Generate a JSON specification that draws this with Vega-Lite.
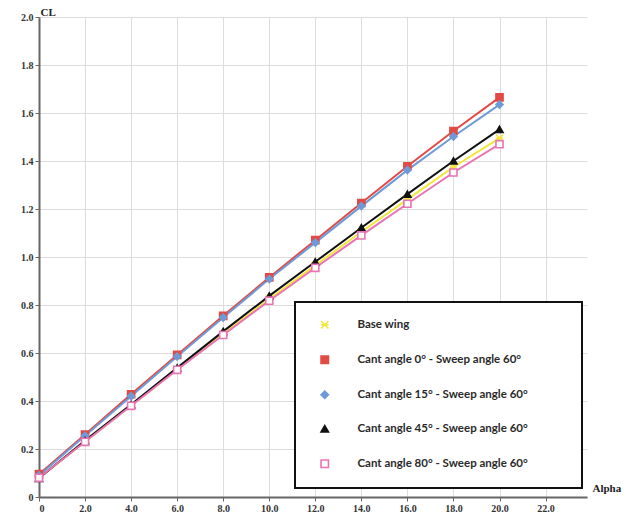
{
  "$schema": "https://vega.github.io/schema/vega-lite/v6.json",
  "width": 548,
  "height": 480,
  "autosize": {"type": "none"},
  "padding": {"left": 39, "top": 17, "right": 42, "bottom": 18},
  "background": "white",
  "config": {
    "view": {"stroke": null},
    "axis": {
      "labelFont": "Liberation Serif",
      "labelFontWeight": "bold",
      "labelFontSize": 10,
      "labelColor": "#333333",
      "titleFont": "Liberation Serif",
      "titleFontWeight": "bold",
      "titleFontSize": 11,
      "titleColor": "#222222",
      "domainColor": "#666666",
      "domainWidth": 2,
      "tickColor": "#666666",
      "tickSize": 4,
      "tickWidth": 1,
      "gridColor": "#dddddd",
      "gridWidth": 1
    },
    "legend": {
      "orient": "none",
      "legendX": 256,
      "legendY": 285,
      "padding": 17,
      "symbolOffset": 7,
      "symbolSize": 55,
      "symbolStrokeWidth": 1.6,
      "labelOffset": 27,
      "rowPadding": 20,
      "labelFont": "Lato",
      "labelFontWeight": "bold",
      "labelFontSize": 11.5,
      "labelColor": "#2a2a2a",
      "labelLimit": 400,
      "titleOrient": "right",
      "titlePadding": 37,
      "titleFontSize": 10,
      "titleColor": "#ffffff",
      "strokeColor": "#111111",
      "strokeWidth": 2,
      "fillColor": "#ffffff"
    }
  },
  "data": {
    "values": [
      {"alpha": 0, "CL": 0.080, "series": "Base wing"},
      {"alpha": 2, "CL": 0.230, "series": "Base wing"},
      {"alpha": 4, "CL": 0.380, "series": "Base wing"},
      {"alpha": 6, "CL": 0.530, "series": "Base wing"},
      {"alpha": 8, "CL": 0.680, "series": "Base wing"},
      {"alpha": 10, "CL": 0.825, "series": "Base wing"},
      {"alpha": 12, "CL": 0.965, "series": "Base wing"},
      {"alpha": 14, "CL": 1.105, "series": "Base wing"},
      {"alpha": 16, "CL": 1.240, "series": "Base wing"},
      {"alpha": 18, "CL": 1.375, "series": "Base wing"},
      {"alpha": 20, "CL": 1.495, "series": "Base wing"},
      {"alpha": 0, "CL": 0.095, "series": "Cant angle 0° - Sweep angle 60°"},
      {"alpha": 2, "CL": 0.260, "series": "Cant angle 0° - Sweep angle 60°"},
      {"alpha": 4, "CL": 0.428, "series": "Cant angle 0° - Sweep angle 60°"},
      {"alpha": 6, "CL": 0.592, "series": "Cant angle 0° - Sweep angle 60°"},
      {"alpha": 8, "CL": 0.755, "series": "Cant angle 0° - Sweep angle 60°"},
      {"alpha": 10, "CL": 0.915, "series": "Cant angle 0° - Sweep angle 60°"},
      {"alpha": 12, "CL": 1.070, "series": "Cant angle 0° - Sweep angle 60°"},
      {"alpha": 14, "CL": 1.225, "series": "Cant angle 0° - Sweep angle 60°"},
      {"alpha": 16, "CL": 1.378, "series": "Cant angle 0° - Sweep angle 60°"},
      {"alpha": 18, "CL": 1.525, "series": "Cant angle 0° - Sweep angle 60°"},
      {"alpha": 20, "CL": 1.665, "series": "Cant angle 0° - Sweep angle 60°"},
      {"alpha": 0, "CL": 0.090, "series": "Cant angle 15° - Sweep angle 60°"},
      {"alpha": 2, "CL": 0.255, "series": "Cant angle 15° - Sweep angle 60°"},
      {"alpha": 4, "CL": 0.420, "series": "Cant angle 15° - Sweep angle 60°"},
      {"alpha": 6, "CL": 0.585, "series": "Cant angle 15° - Sweep angle 60°"},
      {"alpha": 8, "CL": 0.748, "series": "Cant angle 15° - Sweep angle 60°"},
      {"alpha": 10, "CL": 0.908, "series": "Cant angle 15° - Sweep angle 60°"},
      {"alpha": 12, "CL": 1.060, "series": "Cant angle 15° - Sweep angle 60°"},
      {"alpha": 14, "CL": 1.212, "series": "Cant angle 15° - Sweep angle 60°"},
      {"alpha": 16, "CL": 1.362, "series": "Cant angle 15° - Sweep angle 60°"},
      {"alpha": 18, "CL": 1.502, "series": "Cant angle 15° - Sweep angle 60°"},
      {"alpha": 20, "CL": 1.635, "series": "Cant angle 15° - Sweep angle 60°"},
      {"alpha": 0, "CL": 0.078, "series": "Cant angle 45° - Sweep angle 60°"},
      {"alpha": 2, "CL": 0.235, "series": "Cant angle 45° - Sweep angle 60°"},
      {"alpha": 4, "CL": 0.385, "series": "Cant angle 45° - Sweep angle 60°"},
      {"alpha": 6, "CL": 0.538, "series": "Cant angle 45° - Sweep angle 60°"},
      {"alpha": 8, "CL": 0.690, "series": "Cant angle 45° - Sweep angle 60°"},
      {"alpha": 10, "CL": 0.838, "series": "Cant angle 45° - Sweep angle 60°"},
      {"alpha": 12, "CL": 0.980, "series": "Cant angle 45° - Sweep angle 60°"},
      {"alpha": 14, "CL": 1.122, "series": "Cant angle 45° - Sweep angle 60°"},
      {"alpha": 16, "CL": 1.262, "series": "Cant angle 45° - Sweep angle 60°"},
      {"alpha": 18, "CL": 1.400, "series": "Cant angle 45° - Sweep angle 60°"},
      {"alpha": 20, "CL": 1.532, "series": "Cant angle 45° - Sweep angle 60°"},
      {"alpha": 0, "CL": 0.080, "series": "Cant angle 80° - Sweep angle 60°"},
      {"alpha": 2, "CL": 0.230, "series": "Cant angle 80° - Sweep angle 60°"},
      {"alpha": 4, "CL": 0.380, "series": "Cant angle 80° - Sweep angle 60°"},
      {"alpha": 6, "CL": 0.530, "series": "Cant angle 80° - Sweep angle 60°"},
      {"alpha": 8, "CL": 0.675, "series": "Cant angle 80° - Sweep angle 60°"},
      {"alpha": 10, "CL": 0.818, "series": "Cant angle 80° - Sweep angle 60°"},
      {"alpha": 12, "CL": 0.955, "series": "Cant angle 80° - Sweep angle 60°"},
      {"alpha": 14, "CL": 1.090, "series": "Cant angle 80° - Sweep angle 60°"},
      {"alpha": 16, "CL": 1.222, "series": "Cant angle 80° - Sweep angle 60°"},
      {"alpha": 18, "CL": 1.352, "series": "Cant angle 80° - Sweep angle 60°"},
      {"alpha": 20, "CL": 1.470, "series": "Cant angle 80° - Sweep angle 60°"}
    ]
  },
  "encoding": {
    "x": {
      "field": "alpha",
      "type": "quantitative",
      "scale": {"domain": [0, 23.8], "nice": false, "zero": false},
      "axis": {
        "values": [0, 2, 4, 6, 8, 10, 12, 14, 16, 18, 20, 22],
        "labelExpr": "datum.value == 0 ? '0' : format(datum.value, '.1f')",
        "title": "Alpha",
        "titleAlign": "left",
        "titleBaseline": "bottom",
        "titleX": 553,
        "titleY": -4,
        "labelPadding": 2
      }
    },
    "y": {
      "field": "CL",
      "type": "quantitative",
      "scale": {"domain": [0, 2], "nice": false},
      "axis": {
        "values": [0, 0.2, 0.4, 0.6, 0.8, 1.0, 1.2, 1.4, 1.6, 1.8, 2.0],
        "labelExpr": "datum.value == 0 ? '0' : format(datum.value, '.1f')",
        "title": "CL",
        "titleAngle": 0,
        "titleAlign": "left",
        "titleBaseline": "bottom",
        "titleX": 1,
        "titleY": 0,
        "labelPadding": 2
      }
    }
  },
  "layer": [
    {
      "mark": {"type": "line", "strokeWidth": 2},
      "encoding": {
        "color": {
          "field": "series",
          "type": "nominal",
          "title": "\u00a0",
          "scale": {
            "domain": ["Base wing", "Cant angle 0° - Sweep angle 60°", "Cant angle 15° - Sweep angle 60°", "Cant angle 45° - Sweep angle 60°", "Cant angle 80° - Sweep angle 60°"],
            "range": ["#f2e63a", "#e24a46", "#6e9bd6", "#111111", "#e874b4"]
          }
        }
      }
    },
    {
      "mark": {"type": "point", "filled": false, "strokeWidth": 1.6, "opacity": 1},
      "encoding": {
        "color": {
          "field": "series",
          "type": "nominal",
          "title": "\u00a0"
        },
        "fill": {
          "field": "series",
          "type": "nominal",
          "title": "\u00a0",
          "scale": {
            "domain": ["Base wing", "Cant angle 0° - Sweep angle 60°", "Cant angle 15° - Sweep angle 60°", "Cant angle 45° - Sweep angle 60°", "Cant angle 80° - Sweep angle 60°"],
            "range": ["#f2e63a", "#e24a46", "#6e9bd6", "#111111", "#ffffff"]
          }
        },
        "shape": {
          "field": "series",
          "type": "nominal",
          "title": "\u00a0",
          "scale": {
            "domain": ["Base wing", "Cant angle 0° - Sweep angle 60°", "Cant angle 15° - Sweep angle 60°", "Cant angle 45° - Sweep angle 60°", "Cant angle 80° - Sweep angle 60°"],
            "range": ["M-1,-1L1,1M-1,1L1,-1M-1,0L1,0", "square", "diamond", "triangle-up", "square"]
          }
        },
        "size": {"value": 50}
      }
    }
  ]
}
